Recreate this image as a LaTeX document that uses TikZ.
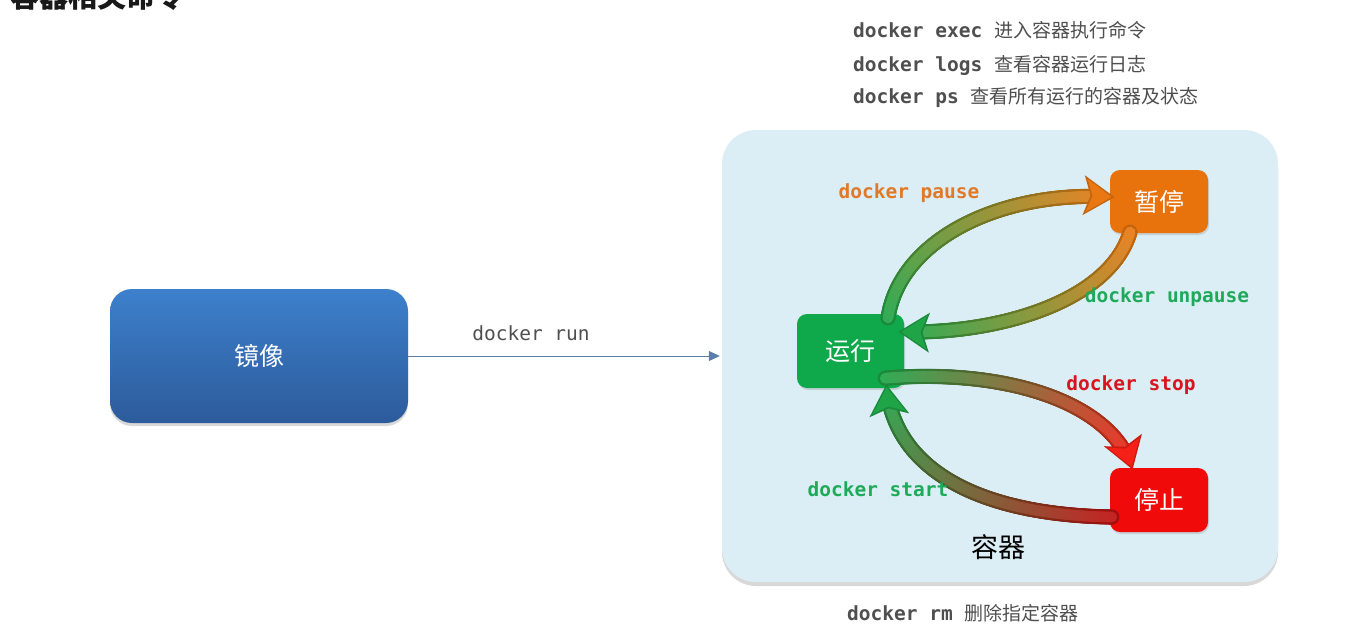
\documentclass[tikz,border=0pt]{standalone}
\usepackage{fontspec}
\newfontfamily\cjk{Noto Sans CJK SC}
\newfontfamily\monof{DejaVu Sans Mono}
\newcommand\fsz[1]{\fontsize{#1}{#1}\selectfont}
\usetikzlibrary{decorations.markings,shadows,arrows.meta,calc}
\definecolor{contfill}{HTML}{DBEEF5}
\definecolor{txtgray}{HTML}{4F4F4F}
\definecolor{runbox}{HTML}{0FA84A}
\definecolor{pausebox}{HTML}{E8720C}
\definecolor{stopbox}{HTML}{F00A0A}
\definecolor{tgreen}{HTML}{1FA548}
\definecolor{torange}{HTML}{EA7812}
\definecolor{tred}{HTML}{F52016}
\definecolor{tdred}{HTML}{C01010}
\definecolor{lblorange}{HTML}{E07A2A}
\definecolor{lblgreen}{HTML}{1FAA5A}
\definecolor{lblred}{HTML}{D8141E}
\definecolor{runline}{HTML}{5B7FAA}
\definecolor{imgtop}{HTML}{3D80CC}
\definecolor{imgbot}{HTML}{2D5B9B}
\tikzset{
  statebox/.style={rounded corners=10pt, inner sep=0pt, text=white,
    font=\cjk\fsz{25}, drop shadow={opacity=0.25, shadow xshift=1pt, shadow yshift=-2pt}},
  cmdlabel/.style={inner sep=0pt, font=\monof\bfseries\fsz{19.5}},
  toptext/.style={inner sep=0pt, anchor=west, text=txtgray},
  tubeedge/.style n args={2}{postaction={decorate, decoration={markings,
    mark=between positions 0 and 0.93 step 0.004 with {
      \pgfmathsetmacro\gp{\pgfkeysvalueof{/pgf/decoration/mark info/distance from start}/\pgfdecoratedpathlength*100}
      \colorlet{tubecol}{#2!\gp!#1}
      \fill[black!16!tubecol] (0pt,0pt) circle (7.6pt);}}}},
  tubecore/.style n args={2}{postaction={decorate, decoration={markings,
    mark=between positions 0 and 0.93 step 0.004 with {
      \pgfmathsetmacro\gp{\pgfkeysvalueof{/pgf/decoration/mark info/distance from start}/\pgfdecoratedpathlength*100}
      \colorlet{tubecol}{#2!\gp!#1}
      \fill[white!8!tubecol] (0pt,0pt) circle (5.4pt);}}}},
  tubehead/.style={postaction={decorate, decoration={markings,
    mark=at position 0.999 with {
      \fill[#1!84!black] (2pt,0pt) -- (-29pt,-20pt) -- (-22pt,0pt) -- (-29pt,20pt) -- cycle;
      \fill[#1] (-1pt,0pt) -- (-26pt,-16.5pt) -- (-20pt,0pt) -- (-26pt,16.5pt) -- cycle;}}}},
  tube/.style n args={2}{tubeedge={#1}{#2}, tubecore={#1}{#2}, tubehead={#2}}
}
\begin{document}
\begin{tikzpicture}[x=1pt,y=-1pt]
\path[use as bounding box, clip] (0,0) rectangle (1354,630);
\fill[white] (0,0) rectangle (1354,630);

% title (cut off at the top, as in the reference)
\node[inner sep=0pt, font=\cjk\bfseries\fsz{29}, text=black!90] (title) at (97,-4) {容器相关命令};

% top commands
\node[toptext] (exec) at (853,30) {{\monof\bfseries\fsz{19.5}docker exec\ }{\cjk\fsz{19}进入容器执行命令}};
\node[toptext] (logs) at (853,65) {{\monof\bfseries\fsz{19.5}docker logs\ }{\cjk\fsz{19}查看容器运行日志}};
\node[toptext] (ps) at (853,97) {{\monof\bfseries\fsz{19.5}docker ps\ }{\cjk\fsz{19}查看所有运行的容器及状态}};
\node[toptext] (rm) at (847,613) {{\monof\bfseries\fsz{19.5}docker rm\ }{\cjk\fsz{19}删除指定容器}};

% container
\node[fill=contfill, rounded corners=34pt, minimum width=556pt, minimum height=452pt, inner sep=0pt,
  drop shadow={opacity=0.3, shadow xshift=0pt, shadow yshift=-4pt}] (cont) at (1000,356) {};
\node[inner sep=0pt, font=\cjk\fsz{27}, text=black] (contlabel) at (998,547) {容器};

% image box
\node[rounded corners=22pt, top color=imgtop, bottom color=imgbot, draw=none, inner sep=0pt,
  minimum width=298pt, minimum height=134pt, text=white, font=\cjk\fsz{25},
  drop shadow={opacity=0.3, shadow xshift=0pt, shadow yshift=-3pt}] (img) at (259,356) {镜像};

\draw[runline, line width=1pt, -{Triangle[length=11pt,width=10pt]}, shorten >=2pt] (img.east) -- (cont.west);
\node[cmdlabel, font=\monof\fsz{19.5}, text=txtgray] (runlbl) at (531,333) {docker run};

% state boxes
\node[statebox, fill=runbox, minimum width=107pt, minimum height=74pt] (run) at (850.5,351) {运行};
\node[statebox, fill=pausebox, minimum width=98pt, minimum height=63pt] (pause) at (1159,201.5) {暂停};
\node[statebox, fill=stopbox, minimum width=98pt, minimum height=64pt] (stop) at (1159,500) {停止};

% tubes
\path[tube={tgreen}{torange}] ([xshift=37.5pt,yshift=-4pt]run.north)
  .. controls +(12,-78) and +(-113,-7) .. ([xshift=3pt,yshift=4.5pt]pause.west);
\path[tube={torange}{tgreen}] ([xshift=-29pt,yshift=1pt]pause.south)
  .. controls +(-20,68) and +(100,3) .. ([xshift=-4pt,yshift=-18pt]run.north east);
\path[tube={tgreen}{tred}] ([xshift=-19pt,yshift=10pt]run.south east)
  .. controls +(115,-10) and +(-22,-68) .. ([xshift=-27pt]stop.north);
\path[tube={tdred}{tgreen}] ([xshift=2pt,yshift=-17pt]stop.west)
  .. controls +(-132,-2) and +(8,84) .. ([xshift=36pt,yshift=2pt]run.south);

% labels
\node[cmdlabel, text=lblorange] (lpause) at (909,193) {docker pause};
\node[cmdlabel, text=lblgreen] (lunpause) at (1167,297) {docker unpause};
\node[cmdlabel, text=lblred] (lstop) at (1131,385) {docker stop};
\node[cmdlabel, text=lblgreen] (lstart) at (878,489) {docker start};
\end{tikzpicture}
\end{document}
